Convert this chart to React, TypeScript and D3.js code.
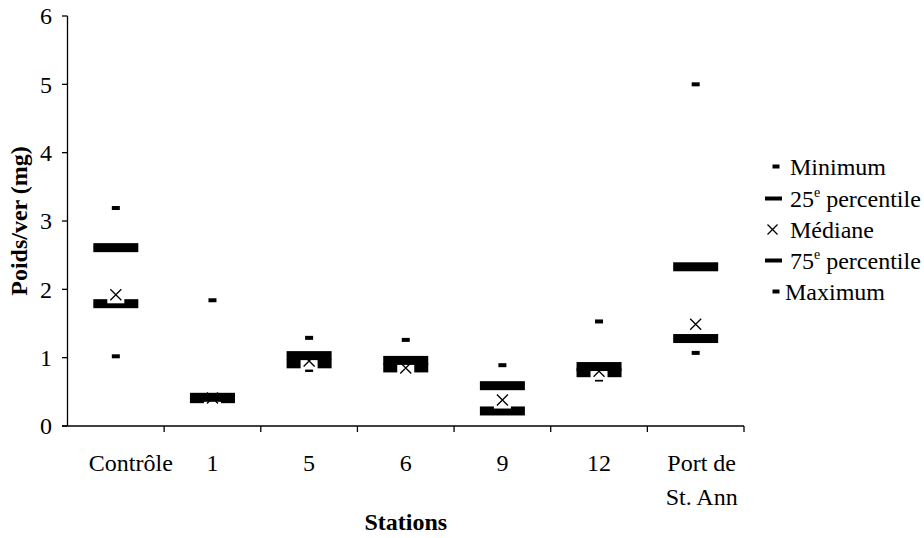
import React from "react";
import * as d3 from "d3";

// Stations sampled and the five summary statistics per station (mg per worm)
const stations = ["Contrôle", "1", "5", "6", "9", "12", "Port de|St. Ann"];
const minimum = [1.02, 0.38, 0.82, 0.8, 0.2, 0.68, 1.07];
const p25 = [1.79, 0.4, 0.91, 0.85, 0.22, 0.78, 1.28];
const mediane = [1.92, 0.41, 0.95, 0.85, 0.38, 0.8, 1.49];
const p75 = [2.61, 0.42, 1.03, 0.96, 0.59, 0.87, 2.33];
const maximum = [3.19, 1.84, 1.29, 1.26, 0.89, 1.53, 5.0];
const yTicks = [0, 1, 2, 3, 4, 5, 6];

const W = 924;
const H = 538;
const FONT = "\"Liberation Serif\", \"DejaVu Serif\", serif";

export default function App() {
  const x = d3.scaleBand<string>().domain(stations).range([67.5, 744]).padding(0);
  const y = d3.scaleLinear().domain([0, 6]).range([426, 16]);
  const cx = (s: string) => (x(s) as number) + x.bandwidth() / 2;

  // first and last category labels sit slightly right of their band centre
  const labelShift = (i: number) => (i === 0 ? 15 : i === stations.length - 1 ? 6 : 0);

  const smallDash = (px: number, py: number, key: string) => (
    <rect key={key} x={px - 4} y={py - 2} width={8} height={4} fill="#000" />
  );
  const bigDash = (px: number, py: number, key: string) => (
    <rect key={key} x={px - 22.5} y={py - 4.5} width={45} height={9} fill="#000" />
  );
  const cross = (px: number, py: number, h: number, key: string, bg: boolean) => (
    <g key={key}>
      {bg && <rect x={px - 8.5} y={py - 8.5} width={17} height={17} fill="#fff" />}
      <path
        d={`M${px - h},${py - h}L${px + h},${py + h}M${px - h},${py + h}L${px + h},${py - h}`}
        stroke="#000"
        strokeWidth={1.3}
        fill="none"
      />
    </g>
  );

  const legend = [
    { label: "Minimum", kind: "small", ty: 175 },
    { label: "25", sup: "e", rest: " percentile", kind: "big", ty: 207 },
    { label: "Médiane", kind: "cross", ty: 238 },
    { label: "75", sup: "e", rest: " percentile", kind: "big", ty: 269 },
    { label: "Maximum", kind: "small", ty: 300, tx: 785 },
  ];

  const txt = { fontFamily: FONT };

  return (
    <svg width={W} height={H} style={{ position: "absolute", left: 0, top: 0, background: "#fff", fontFamily: FONT }}>
      <rect x={0} y={0} width={W} height={H} fill="#fff" />

      {/* marks per station, drawn series by series */}
      {stations.map((s, i) => {
        const px = cx(s);
        return (
          <g key={s}>
            {smallDash(px, y(minimum[i]), "min")}
            {bigDash(px, y(p25[i]), "p25")}
            {cross(px, y(mediane[i]), 5.5, "med", true)}
            {bigDash(px, y(p75[i]), "p75")}
            {smallDash(px, y(maximum[i]), "max")}
          </g>
        );
      })}

      {/* y axis */}
      <line x1={67.5} x2={67.5} y1={y(6)} y2={y(0)} stroke="#000" strokeWidth={1.3} />
      {yTicks.map((t) => (
        <g key={t}>
          <line x1={62} x2={67.5} y1={y(t)} y2={y(t)} stroke="#000" strokeWidth={1.3} />
          <text x={52} y={y(t)} dy="0.35em" textAnchor="end" fontSize={24} style={txt}>
            {t}
          </text>
        </g>
      ))}

      {/* x axis */}
      <line x1={62} x2={744} y1={y(0)} y2={y(0)} stroke="#000" strokeWidth={1.3} />
      {stations.map((s, i) => (
        <line
          key={"t" + i}
          x1={(x(s) as number) + x.bandwidth()}
          x2={(x(s) as number) + x.bandwidth()}
          y1={y(0)}
          y2={y(0) + 6}
          stroke="#000"
          strokeWidth={1.3}
        />
      ))}
      {stations.map((s, i) => {
        const lines = s.split("|");
        const lx = cx(s) + labelShift(i);
        return (
          <text key={"l" + s} x={lx} y={471} textAnchor="middle" fontSize={24} style={txt}>
            {lines.map((ln, j) => (
              <tspan key={j} x={lx} dy={j === 0 ? 0 : 34}>
                {ln}
              </tspan>
            ))}
          </text>
        );
      })}

      {/* axis titles */}
      <text x={(67.5 + 744) / 2} y={530} textAnchor="middle" fontSize={24} fontWeight="bold" style={txt}>
        Stations
      </text>
      <text
        transform={`translate(27,${(y(0) + y(6)) / 2}) rotate(-90)`}
        textAnchor="middle"
        fontSize={24}
        fontWeight="bold"
        style={txt}
      >
        Poids/ver (mg)
      </text>

      {/* legend */}
      {legend.map((l) => {
        const my = l.ty - 8.5;
        let sym;
        if (l.kind === "small") sym = <rect x={772.5} y={my - 2} width={7} height={4} fill="#000" />;
        else if (l.kind === "big") sym = <rect x={765} y={my - 2} width={17} height={4} fill="#000" />;
        else sym = cross(772.5, my, 5, "lc", false);
        return (
          <g key={l.label + (l.rest || "")}>
            {sym}
            <text x={l.tx ?? 790} y={l.ty} fontSize={24} style={txt}>
              {l.label}
              {l.sup && (
                <tspan fontSize={14} dy={-10}>
                  {l.sup}
                </tspan>
              )}
              {l.rest && <tspan dy={10}>{l.rest}</tspan>}
            </text>
          </g>
        );
      })}
    </svg>
  );
}
